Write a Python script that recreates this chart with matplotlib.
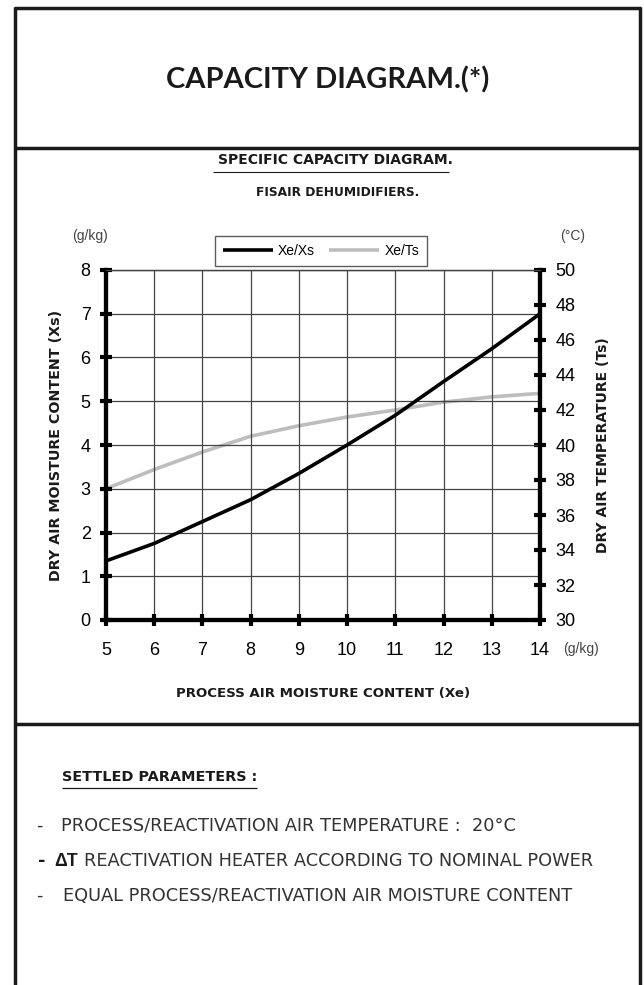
import numpy as np
import matplotlib
matplotlib.use('Agg')
import matplotlib.pyplot as plt
from matplotlib.lines import Line2D

# data
xe = [5, 6, 7, 8, 9, 10, 11, 12, 13, 14]
xs = [1.35, 1.75, 2.25, 2.75, 3.35, 4.0, 4.68, 5.45, 6.2, 7.0]
ts = [37.5, 38.6, 39.6, 40.5, 41.1, 41.6, 42.0, 42.45, 42.75, 42.95]
x_ticks = list(range(5, 15))
left_ticks = list(range(0, 9))
right_ticks = list(range(30, 51, 2))

W, H = 644, 985
fig = plt.figure(figsize=(W / 100, H / 100), dpi=100)


def fx(px):
    return px / W


def fy(py):
    return 1 - py / H


def hline(x0, x1, y, lw=2.5, color='#1a1a1a'):
    fig.add_artist(Line2D([fx(x0), fx(x1)], [fy(y), fy(y)], lw=lw, color=color,
                          solid_capstyle='butt'))


def vline(x, y0, y1, lw=2.5, color='#1a1a1a'):
    fig.add_artist(Line2D([fx(x), fx(x)], [fy(y0), fy(y1)], lw=lw, color=color,
                          solid_capstyle='butt'))


# outer frame
vline(15, 7, 985)
vline(640, 7, 985)
hline(14, 641, 8)
hline(14, 641, 148)
hline(14, 641, 724)

title_font = 'Lato'
head = 'DejaVu Sans'
txt = 'Liberation Sans'
body = 'DejaVu Sans'

fig.text(fx(328), fy(80), 'CAPACITY DIAGRAM.(*)', ha='center', va='center',
         fontsize=21, fontweight='bold', family=title_font, color='#1a1a1a')
fig.text(fx(335), fy(160), 'SPECIFIC CAPACITY DIAGRAM.', ha='center', va='center',
         fontsize=10, fontweight='bold', family=head, color='#1a1a1a')
hline(213, 449, 172, lw=0.8)
fig.text(fx(338), fy(193), 'FISAIR DEHUMIDIFIERS.', ha='center', va='center',
         fontsize=8.8, fontweight='bold', family=head, color='#1a1a1a')

# plot area
ax = fig.add_axes([fx(106), fy(620), fx(540) - fx(106), fy(270) - fy(620)])
ax2 = ax.twinx()

ax2.plot(xe, ts, color='#bdbdbd', lw=2.6, label='Xe/Ts', solid_capstyle='butt')
ax.plot(xe, xs, color='black', lw=2.6, label='Xe/Xs', solid_capstyle='butt')
ax.set_zorder(ax2.get_zorder() + 1)
ax.patch.set_visible(False)

ax.set_xlim(5, 14)
ax.set_ylim(0, 8)
ax2.set_ylim(30, 50)
ax.set_xticks(x_ticks)
ax.set_yticks(left_ticks)
ax2.set_yticks(right_ticks)
ax.grid(True, color='#444444', lw=0.9)

for a in (ax, ax2):
    for s in a.spines.values():
        s.set_linewidth(3)
        s.set_color('black')
    a.spines['top'].set_linewidth(0.9)
    a.spines['top'].set_color('#444444')

ax.tick_params(axis='both', direction='inout', length=8, width=3, color='black',
               labelsize=13, labelfontfamily=txt)
ax.tick_params(axis='y', pad=7)
ax.tick_params(axis='x', pad=12)
ax2.tick_params(axis='y', direction='inout', length=8, width=3, color='black',
                labelsize=13, labelfontfamily=txt, pad=7)

ax.set_ylabel('DRY AIR MOISTURE CONTENT (Xs)', fontsize=10.3, fontweight='bold',
              family=head, color='#1a1a1a', labelpad=13)
ax2.set_ylabel('DRY AIR TEMPERATURE (Ts)', fontsize=10, fontweight='bold',
               family=head, color='#1a1a1a', labelpad=15)
ax.set_xlabel('PROCESS AIR MOISTURE CONTENT (Xe)', fontsize=9.6, fontweight='bold',
              family=head, color='#1a1a1a', labelpad=20)

handles = ax.get_lines() + ax2.get_lines()
leg = fig.legend(handles, [h.get_label() for h in handles], loc='center',
                 bbox_to_anchor=(fx(321), fy(251)), ncol=2, frameon=True,
                 fancybox=False, edgecolor='#333333',
                 prop={'family': txt, 'size': 10}, handlelength=3.6,
                 columnspacing=1.0, borderpad=0.55, handletextpad=0.4)
leg.get_frame().set_linewidth(1.0)

fig.text(fx(90), fy(236), '(g/kg)', ha='center', va='center', fontsize=10,
         family=txt, color='#444444')
fig.text(fx(573), fy(236), '(°C)', ha='center', va='center', fontsize=10,
         family=txt, color='#444444')
fig.text(fx(563), fy(649), '(g/kg)', ha='left', va='center', fontsize=10,
         family=txt, color='#444444')

# settled parameters block
fig.text(fx(62), fy(777), 'SETTLED PARAMETERS :', ha='left', va='center',
         fontsize=10.4, fontweight='bold', family=head, color='#1a1a1a')
hline(62, 257, 788, lw=0.9)
fs = 12.8
fig.text(fx(36), fy(826), '-', ha='left', va='center', fontsize=fs, family=body,
         color='#333333')
fig.text(fx(61), fy(826), 'PROCESS/REACTIVATION AIR TEMPERATURE :  20°C',
         ha='left', va='center', fontsize=fs, family=body, color='#333333')
fig.text(fx(38), fy(861), '-', ha='left', va='center', fontsize=fs, family=body,
         fontweight='bold', color='#1a1a1a')
fig.text(fx(54), fy(861), 'ΔT', ha='left', va='center', fontsize=fs, family=txt,
         fontweight='bold', color='#1a1a1a')
fig.text(fx(84), fy(861), 'REACTIVATION HEATER ACCORDING TO NOMINAL POWER',
         ha='left', va='center', fontsize=fs, family=body, color='#333333')
fig.text(fx(36), fy(896), '-', ha='left', va='center', fontsize=fs, family=body,
         color='#333333')
fig.text(fx(63), fy(896), 'EQUAL PROCESS/REACTIVATION AIR MOISTURE CONTENT',
         ha='left', va='center', fontsize=fs, family=body, color='#333333')

fig.savefig('out.png', dpi=100)
